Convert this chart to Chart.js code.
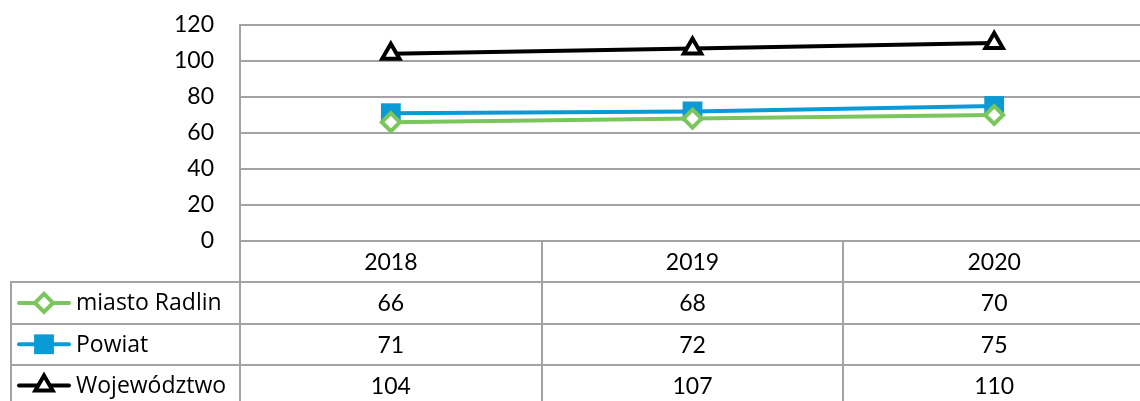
<!DOCTYPE html>
<html>
<head>
<meta charset="utf-8">
<script src="https://cdn.jsdelivr.net/npm/chart.js@4"></script>
<style>
  html, body { margin: 0; padding: 0; background: #fff; overflow: hidden; }
  #wrap { position: relative; width: 1140px; height: 401px; overflow: hidden; }
</style>
</head>
<body>
<div id="wrap"><canvas id="chart" width="1145" height="401"></canvas></div>
<script>
// data
const years = ['2018', '2019', '2020'];
const seriesNames = ['miasto Radlin', 'Powiat', 'Województwo'];
const radlin = [66, 68, 70];
const powiat = [71, 72, 75];
const wojewodztwo = [104, 107, 110];
const yTicks = [0, 20, 40, 60, 80, 100, 120];

const FONT = 'Lato, "Open Sans", sans-serif';
const GRID = '#a3a3a3';
const ROW_H = 41.3;

const styles = [
  { color: '#7ac65c', fill: '#ffffff', pointStyle: 'rectRot', radius: 9, border: 4 },
  { color: '#0a9ad6', fill: '#0a9ad6', pointStyle: 'rect', radius: 14, border: 0 },
  { color: '#000000', fill: '#ffffff', pointStyle: 'triangle', radius: 10, border: 4 },
];

// Draws the Excel-style data table under the plot area
const dataTable = {
  id: 'dataTable',
  afterDraw(chart) {
    const ctx = chart.ctx;
    const x = chart.scales.x;
    const area = chart.chartArea;
    const rows = [radlin, powiat, wojewodztwo];
    const top = area.bottom;
    const half = (x.getPixelForValue(1) - x.getPixelForValue(0)) / 2;
    ctx.save();
    ctx.strokeStyle = GRID;
    ctx.lineWidth = 2;
    // horizontal lines
    for (let r = 1; r <= 3; r++) {
      const y = Math.round(top + ROW_H * r);
      ctx.beginPath();
      ctx.moveTo(10, y);
      ctx.lineTo(chart.width, y);
      ctx.stroke();
    }
    // vertical lines
    ctx.beginPath();
    ctx.moveTo(area.left, top);
    ctx.lineTo(area.left, chart.height);
    ctx.moveTo(11, Math.round(top + ROW_H));
    ctx.lineTo(11, chart.height);
    years.forEach((y, i) => {
      if (i === 0) return;
      const bx = Math.round(x.getPixelForValue(i) - half);
      ctx.moveTo(bx, top);
      ctx.lineTo(bx, chart.height);
    });
    ctx.stroke();

    ctx.fillStyle = '#000';
    ctx.font = '23px ' + FONT;
    ctx.textAlign = 'center';
    ctx.textBaseline = 'middle';
    years.forEach((y, i) => {
      ctx.fillText(y, x.getPixelForValue(i), top + ROW_H / 2 + 1);
    });
    rows.forEach((vals, r) => {
      const cy = top + ROW_H * (r + 1.5) + 1;
      vals.forEach((v, i) => ctx.fillText(String(v), x.getPixelForValue(i), cy));
    });

    // legend keys
    rows.forEach((vals, r) => {
      const cy = top + ROW_H * (r + 1.5);
      const s = styles[r];
      ctx.strokeStyle = s.color;
      ctx.lineWidth = 4;
      ctx.lineCap = 'round';
      ctx.beginPath();
      ctx.moveTo(19, cy);
      ctx.lineTo(69, cy);
      ctx.stroke();
      ctx.fillStyle = s.fill;
      ctx.strokeStyle = s.color;
      ctx.lineWidth = s.border;
      Chart.helpers.drawPoint(ctx, { pointStyle: s.pointStyle, radius: s.radius, rotation: 0, borderWidth: s.border }, 44, cy);
      ctx.fillStyle = '#000';
      ctx.textAlign = 'left';
      ctx.font = '23px "Open Sans", sans-serif';
      ctx.fillText(seriesNames[r], 76, cy + 1);
    });
    ctx.restore();
  }
};

const datasets = [radlin, powiat, wojewodztwo].map((vals, i) => ({
  label: seriesNames[i],
  data: vals,
  borderColor: styles[i].color,
  backgroundColor: styles[i].fill,
  pointBackgroundColor: styles[i].fill,
  pointBorderColor: styles[i].color,
  pointStyle: styles[i].pointStyle,
  pointRadius: styles[i].radius,
  pointBorderWidth: styles[i].border,
  borderWidth: 4,
  tension: 0,
}));

new Chart(document.getElementById('chart'), {
  type: 'line',
  data: { labels: years, datasets: datasets },
  options: {
    responsive: false,
    animation: false,
    layout: { autoPadding: false, padding: { top: 25, bottom: 160, left: 0, right: 0 } },
    plugins: { legend: { display: false }, tooltip: { enabled: false } },
    scales: {
      x: { type: 'category', offset: true, display: false },
      y: {
        min: 0, max: 120,
        afterBuildTicks: (s) => { s.ticks = yTicks.map(v => ({ value: v })); },
        afterFit: (s) => { s.width = 240; s.paddingTop = 0; s.paddingBottom = 0; },
        grid: { color: GRID, lineWidth: 2, drawTicks: false },
        border: { display: true, color: GRID, width: 2 },
        ticks: { color: '#000', padding: 26, font: { family: FONT, size: 23 } },
      },
    },
  },
  plugins: [dataTable],
});
</script>
</body>
</html>
